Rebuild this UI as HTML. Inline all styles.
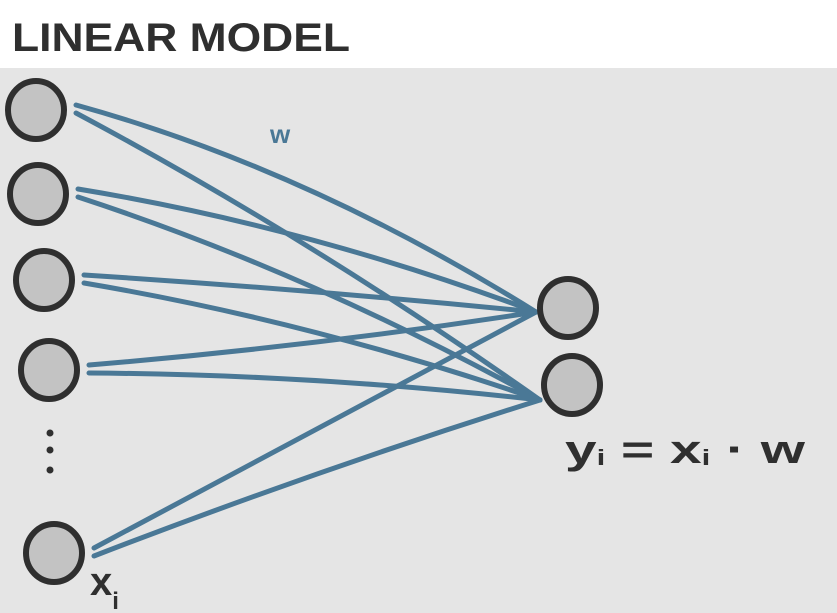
<!DOCTYPE html>
<html><head><meta charset="utf-8">
<style>
html,body{margin:0;padding:0;background:#fff;}
svg{display:block;}
.hand{font-family:"Liberation Sans",sans-serif;}
</style></head>
<body>
<svg id="chart" width="837" height="613" viewBox="0 0 837 613">
  <rect x="0" y="0" width="837" height="68" fill="#ffffff"/>
  <rect x="0" y="68" width="837" height="545" fill="#e5e5e5"/>
  <text x="12" y="51" class="hand" font-size="40" font-weight="bold" fill="#2f2f2f" textLength="338" lengthAdjust="spacingAndGlyphs">LINEAR MODEL</text>
  <g id="edges"></g>
  <g id="nodes"></g>
  <text x="270" y="143" class="hand" font-size="26" font-weight="bold" fill="#4a7896">w</text>
  <g fill="#2f2f2f">
    <circle cx="50" cy="433" r="3.5"/><circle cx="50" cy="450" r="3.5"/><circle cx="50" cy="470" r="3.5"/>
  </g>
  <text x="565" y="463" class="hand" font-size="40" font-weight="bold" fill="#2f2f2f" textLength="240" lengthAdjust="spacingAndGlyphs">y<tspan font-size="22" dy="2">i</tspan><tspan dy="-2"> = x</tspan><tspan font-size="22" dy="2">i</tspan><tspan dy="-2"> · w</tspan></text>
  <text x="90" y="595" class="hand" font-size="40" font-weight="bold" fill="#2f2f2f">x<tspan font-size="24" dy="14">i</tspan></text>
</svg>
<script>
const inputX = [36, 38, 44, 49, 54];
const inputY = [110, 194, 280, 370, 553];
const outputX = [568, 572];
const outputY = [308, 385];
// bow (upward offset) of each edge, [input][output]
const bowOut1 = [20, 12, 2, -4, 0];
const bowOut2 = [10, 13, 10, 6, 4];
const NS = "http://www.w3.org/2000/svg";
const edges = document.getElementById("edges");
const nodes = document.getElementById("nodes");
const R = 28;
for (let i = 0; i < inputX.length; i++) {
  for (let j = 0; j < outputX.length; j++) {
    const x1 = inputX[i] + R + 12, y1 = inputY[i] + (j === 0 ? -5 : 3);
    const x2 = outputX[j] - R - 4, y2 = outputY[j] + (j === 0 ? 4 : 15);
    const bow = (j === 0 ? bowOut1 : bowOut2)[i];
    const cx = (x1 + x2) / 2, cy = (y1 + y2) / 2 - 2 * bow;
    const p = document.createElementNS(NS, "path");
    p.setAttribute("d", `M${x1},${y1} Q${cx},${cy} ${x2},${y2}`);
    p.setAttribute("fill", "none");
    p.setAttribute("stroke", "#4a7896");
    p.setAttribute("stroke-width", "5");
    p.setAttribute("stroke-linecap", "round");
    
    
    edges.appendChild(p);
  }
}
function node(x, y, name) {
  const c = document.createElementNS(NS, "ellipse");
  c.setAttribute("cx", x); c.setAttribute("cy", y);
  c.setAttribute("rx", 28); c.setAttribute("ry", 29);
  c.setAttribute("fill", "#c3c3c3");
  c.setAttribute("stroke", "#2f2f2f");
  c.setAttribute("stroke-width", "6");
  
  
  nodes.appendChild(c);
}
for (let i = 0; i < inputX.length; i++) node(inputX[i], inputY[i], "input-node");
for (let j = 0; j < outputX.length; j++) node(outputX[j], outputY[j], "output-node");
</script>
</body></html>
